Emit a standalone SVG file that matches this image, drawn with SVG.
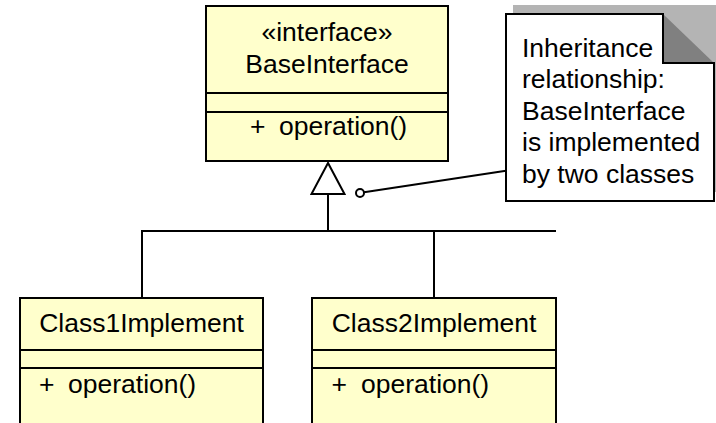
<svg xmlns="http://www.w3.org/2000/svg" width="716" height="423" viewBox="0 0 716 423">
  <style>
    .cls { fill: #ffffcc; stroke: #000; stroke-width: 2; }
    .sep { stroke: #000; stroke-width: 2; }
    .lbl { font-family: "Liberation Sans", Arial, sans-serif; font-size: 26.5px; fill: #000; }
    .mid { text-anchor: middle; }
    .wire { fill: none; stroke: #000; stroke-width: 2; }
  </style>
  <rect width="716" height="423" fill="#fff"/>

  <!-- interface -->
  <g id="BaseInterface">
    <rect class="cls" x="206" y="6" width="242" height="155"/>
    <line class="sep" x1="206" y1="93" x2="448" y2="93"/>
    <line class="sep" x1="206" y1="112" x2="448" y2="112"/>
    <text class="lbl mid" x="327" y="41">«interface»</text>
    <text class="lbl mid" x="327" y="72.5">BaseInterface</text>
    <text class="lbl" x="250" y="135">+</text>
    <text class="lbl" x="279" y="135">operation()</text>
  </g>

  <!-- implementing classes -->
  <g id="Class1Implement">
    <rect class="cls" x="20" y="298" width="243" height="140"/>
    <line class="sep" x1="20" y1="350" x2="263" y2="350"/>
    <line class="sep" x1="20" y1="368" x2="263" y2="368"/>
    <text class="lbl mid" x="141.5" y="331.5">Class1Implement</text>
    <text class="lbl" x="39" y="393">+</text>
    <text class="lbl" x="68" y="393">operation()</text>
  </g>

  <g id="Class2Implement">
    <rect class="cls" x="312" y="298" width="244" height="140"/>
    <line class="sep" x1="312" y1="350" x2="556" y2="350"/>
    <line class="sep" x1="312" y1="368" x2="556" y2="368"/>
    <text class="lbl mid" x="434" y="331.5">Class2Implement</text>
    <text class="lbl" x="331.5" y="393">+</text>
    <text class="lbl" x="361" y="393">operation()</text>
  </g>

  <!-- note with folded corner and shadow -->
  <g id="note">
    <rect x="513" y="5" width="210" height="187" fill="#b4b4b4"/>
    <polygon points="506,14 663,14 663,63 714,63 714,201 506,201" fill="#fff" stroke="#000" stroke-width="2"/>
    <polygon points="663,14 714,63 663,63" fill="#808080"/>
    <line x1="663" y1="13" x2="663" y2="63" stroke="#000" stroke-width="2"/>
    <line x1="663" y1="63" x2="714" y2="63" stroke="#000" stroke-width="2"/>
    <text class="lbl" x="522">
      <tspan x="522" y="56.5">Inheritance</tspan>
      <tspan x="522" y="88">relationship:</tspan>
      <tspan x="522" y="119.5">BaseInterface</tspan>
      <tspan x="522" y="151">is implemented</tspan>
      <tspan x="522" y="182.5">by two classes</tspan>
    </text>
  </g>

  <!-- connectors -->
  <g id="connectors">
    <polygon points="328,163 311.5,194 344.5,194" fill="#fff" stroke="#000" stroke-width="2"/>
    <polyline class="wire" points="328,194 328,231"/>
    <line class="wire" x1="141" y1="231" x2="556" y2="231"/>
    <line class="wire" x1="142" y1="230" x2="142" y2="298"/>
    <line class="wire" x1="434" y1="231" x2="434" y2="298"/>
    <line class="wire" x1="364" y1="192.3" x2="506" y2="170.7"/>
    <circle cx="360" cy="193" r="4" fill="#fff" stroke="#000" stroke-width="2"/>
  </g>
</svg>
